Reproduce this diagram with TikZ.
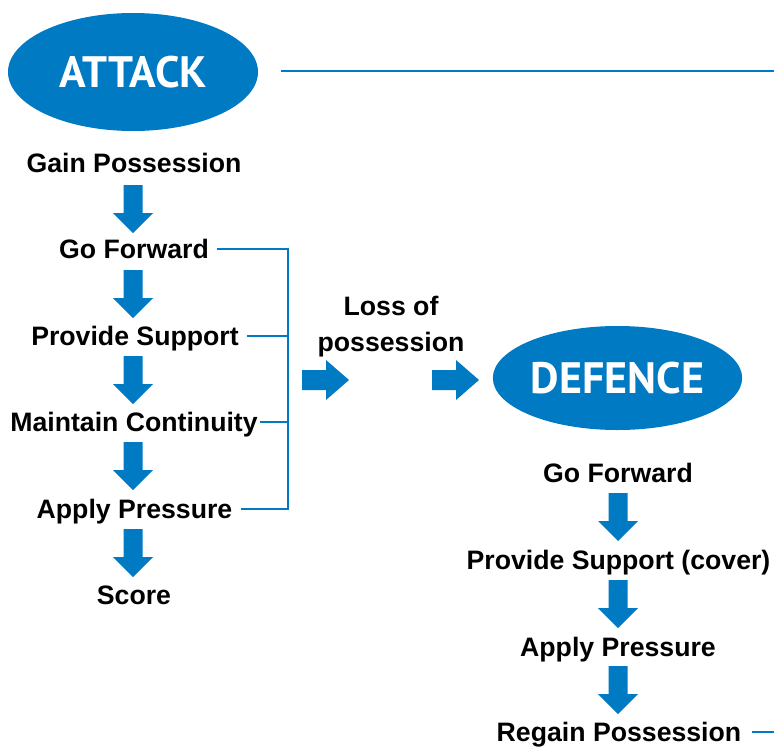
\documentclass[tikz,border=0pt]{standalone}
\usepackage{fontspec}
\setmainfont{Liberation Sans}
\newfontfamily\titlefont{PT Sans}
\usetikzlibrary{shapes.geometric}
\definecolor{rugby}{RGB}{0,122,194}
\tikzset{
  lbl/.style={font=\bfseries\fontsize{20}{24}\selectfont, inner sep=0pt, text depth=0pt, anchor=center},
  title/.style={ellipse, fill=rugby, text=white, inner sep=0pt,
    font=\titlefont\bfseries\fontsize{33}{36}\selectfont},
  link/.style={draw=rugby, line width=1.1pt},
  arr/.style={fill=rugby}
}
\newcommand\DownArr[2]{\fill[arr] (#1-9.5,#2) -- (#1+9.5,#2) -- (#1+9.5,#2+28) -- (#1+20,#2+28) -- (#1,#2+48) -- (#1-20,#2+28) -- (#1-9.5,#2+28) -- cycle;}
\newcommand\RightArr[2]{\fill[arr] (#1,#2-10) -- (#1+24,#2-10) -- (#1+24,#2-20) -- (#1+47,#2) -- (#1+24,#2+20) -- (#1+24,#2+10) -- (#1,#2+10) -- cycle;}
\begin{document}
\begin{tikzpicture}[x=0.75pt,y=-0.75pt]
\useasboundingbox (0,0) rectangle (774,746);
% titles
\node[title, minimum width=187.5pt, minimum height=88.5pt] (attack) at (133,72) {ATTACK};
\coordinate (lineend) at (774,71);
\draw[link] (281,71) -- (lineend);
\node[title, minimum width=187pt, minimum height=78pt] (defence) at (617.5,378) {DEFENCE};

% attack column
\node[lbl] (gp) at (134,163) {Gain Possession};
\node[lbl] (gf) at (134,249) {Go Forward};
\node[lbl] (ps) at (135,336) {Provide Support};
\node[lbl] (mc) at (134,422) {Maintain Continuity};
\node[lbl] (ap) at (134.5,509) {Apply Pressure};
\node[lbl] (sc) at (134,595) {Score};
\DownArr{133}{185}
\DownArr{133}{270}
\DownArr{133}{356}
\DownArr{133}{442}
\DownArr{133}{529}

% bracket
\coordinate (btop) at (288,249);
\coordinate (bbot) at (288,509);
\draw[link] ([xshift=6pt]gf.east) -- (btop) -- (bbot) -- ([xshift=6pt]ap.east);
\draw[link] ([xshift=6pt]ps.east) -- (ps.east -| btop);
\draw[link] ([xshift=1.5pt]mc.east) -- (mc.east -| btop);

% loss of possession
\node[lbl, align=center, text depth=, font=\bfseries\fontsize{20}{27}\selectfont] (loss) at (391,327) {Loss of\\possession};
\RightArr{302}{380}
\RightArr{432}{380}

% defence column
\node[lbl] (dgf) at (618,473) {Go Forward};
\node[lbl] (dps) at (618.5,560) {Provide Support (cover)};
\node[lbl] (dap) at (618,647) {Apply Pressure};
\node[lbl] (drp) at (619,732) {Regain Possession};
\DownArr{618}{493}
\DownArr{618}{580}
\DownArr{618}{666}
\coordinate (rpend) at (774,735);
\draw[link] ([xshift=8pt]drp.east) -- (drp.east -| rpend);
\end{tikzpicture}
\end{document}
